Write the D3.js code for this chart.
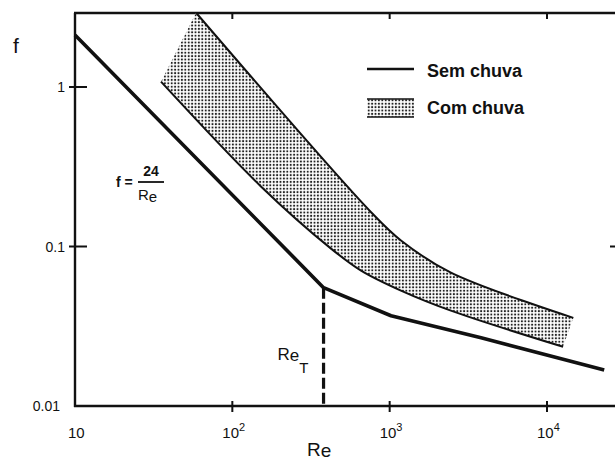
<!DOCTYPE html>
<html>
<head>
<meta charset="utf-8">
<script src="https://cdn.jsdelivr.net/npm/d3@7"></script>
<style>
  body { margin: 0; background: #fff; }
  svg { display: block; font-family: "Liberation Sans", Arial, sans-serif; }
</style>
</head>
<body>
<div id="main"></div>
<script>
// values (Re, f)
const semChuva = [[10, 2.12], [380, 0.0552], [1020, 0.0368], [3810, 0.0268], [23100, 0.0168]];
const chuvaUpper = [[58.8, 2.92], [762, 0.164], [1180, 0.109], [2450, 0.0686], [14700, 0.0357]];
const chuvaLower = [[35.2, 1.08], [152, 0.238], [424, 0.097], [658, 0.0706], [1180, 0.0529], [2450, 0.0396], [12650, 0.0235]];
const reT = 380;
const xTicks = [10, 100, 1000, 10000];
const xTickExp = ["", "2", "3", "4"];
const yTicks = [1, 0.1];
const yTickLabels = ["1", "0.1"];
const legendItems = ["Sem chuva", "Com chuva"];

const ctx = {
    w: 615,
    h: 463,
    left: 75,
    right: 617,
    top: 13,
    bottom: 406,
};

let svg = d3.select("#main").append("svg")
    .attr("width", ctx.w)
    .attr("height", ctx.h);

// dotted fill for the rain band
let pat = svg.append("defs").append("pattern")
    .attr("id", "stipple")
    .attr("patternUnits", "userSpaceOnUse")
    .attr("width", 3.4)
    .attr("height", 3.4);
pat.append("rect").attr("width", 3.4).attr("height", 3.4).attr("fill", "#fff");
pat.append("circle").attr("cx", 1.7).attr("cy", 1.7).attr("r", 1.05).attr("fill", "#222");

let x = d3.scaleLog().domain([10, 10000]).range([ctx.left, 547]);
let y = d3.scaleLog().domain([0.01, 1]).range([ctx.bottom, 87]);

// frame
let frame = svg.append("g").attr("stroke", "#111").attr("stroke-width", 2.4).attr("fill", "none");
frame.append("line").attr("x1", ctx.left).attr("x2", ctx.left).attr("y1", ctx.top).attr("y2", ctx.bottom + 1);
frame.append("line").attr("x1", ctx.left - 1).attr("x2", ctx.right).attr("y1", ctx.bottom).attr("y2", ctx.bottom);
frame.append("line").attr("x1", ctx.left - 1).attr("x2", ctx.right).attr("y1", ctx.top).attr("y2", ctx.top);
frame.append("line").attr("x1", ctx.right).attr("x2", ctx.right).attr("y1", ctx.top).attr("y2", ctx.bottom);

// ticks
let ticks = svg.append("g").attr("stroke", "#111").attr("stroke-width", 2);
ticks.selectAll(".yt").data(yTicks).enter().append("line")
    .attr("x1", ctx.left - 6).attr("x2", ctx.left + 12)
    .attr("y1", d => y(d)).attr("y2", d => y(d));
ticks.selectAll(".yr").data(yTicks.slice(1)).enter().append("line")
    .attr("x1", ctx.right - 7).attr("x2", ctx.right)
    .attr("y1", d => y(d)).attr("y2", d => y(d));
ticks.selectAll(".xt").data(xTicks.slice(1)).enter().append("line")
    .attr("x1", d => x(d)).attr("x2", d => x(d))
    .attr("y1", ctx.bottom - 5).attr("y2", ctx.bottom + 6);
ticks.selectAll(".xtop").data(xTicks.slice(1)).enter().append("line")
    .attr("x1", d => x(d)).attr("x2", d => x(d))
    .attr("y1", ctx.top).attr("y2", ctx.top + 6);

// tick labels
let lab = svg.append("g").attr("fill", "#111").style("font-size", "14px");
lab.selectAll(".yl").data(yTicks).enter().append("text")
    .attr("x", ctx.left - 10)
    .attr("y", d => y(d) + 5)
    .attr("text-anchor", "end")
    .text((d, i) => yTickLabels[i]);
lab.append("text")
    .attr("x", ctx.left - 15).attr("y", y(0.01) + 5)
    .attr("text-anchor", "end")
    .text("0.01");

let xl = lab.selectAll(".xl").data(xTicks).enter().append("text")
    .attr("x", (d, i) => i == 0 ? x(d) - 7 : x(d) - 10)
    .attr("y", 438)
    .style("font-size", "15px");
xl.append("tspan").text("10");
xl.append("tspan").attr("dy", -7).style("font-size", "11px").text((d, i) => xTickExp[i]);

// axis titles
svg.append("text").attr("x", 13).attr("y", 53).style("font-size", "21px").attr("fill", "#111").text("f");
let reTitle = svg.append("text").attr("x", 307).attr("y", 456).style("font-size", "19px").attr("fill", "#111");
reTitle.append("tspan").text("R");
reTitle.append("tspan").attr("dy", 1).text("e");

// rain band
let curve = d3.line().x(d => x(d[0])).y(d => y(d[1])).curve(d3.curveCatmullRom.alpha(0.5));
let lowerRev = chuvaLower.slice().reverse();
let bandPath = curve(chuvaUpper) + curve(lowerRev).replace(/^M/, "L") + "Z";
svg.append("path").attr("d", bandPath).attr("fill", "url(#stipple)").attr("stroke", "none");
svg.append("path").attr("d", curve(chuvaUpper)).attr("fill", "none").attr("stroke", "#111").attr("stroke-width", 2);
svg.append("path").attr("d", curve(chuvaLower)).attr("fill", "none").attr("stroke", "#111").attr("stroke-width", 2);

// dry curve
let lin = d3.line().x(d => x(d[0])).y(d => y(d[1]));
svg.append("path").attr("d", lin(semChuva)).attr("fill", "none")
    .attr("stroke", "#111").attr("stroke-width", 3.6).attr("stroke-linejoin", "round");

// transition Reynolds number
let fT = semChuva[1][1];
svg.append("line")
    .attr("x1", x(reT)).attr("x2", x(reT))
    .attr("y1", y(fT)).attr("y2", ctx.bottom)
    .attr("stroke", "#111").attr("stroke-width", 3.2)
    .attr("stroke-dasharray", "11,4");
let reTl = svg.append("text").attr("x", x(reT) - 46).attr("y", 360)
    .style("font-size", "17px").attr("fill", "#111");
reTl.append("tspan").text("R");
reTl.append("tspan").attr("dy", 1).text("e");
reTl.append("tspan").attr("dy", 12).style("font-size", "15px").text("T");

// formula f = 24/Re
let fm = svg.append("g").attr("fill", "#111").style("font-weight", "bold");
fm.append("text").attr("x", 116).attr("y", 187).style("font-size", "14px").text("f =");
fm.append("text").attr("x", 151).attr("y", 176).attr("text-anchor", "middle").style("font-size", "14px").text("24");
fm.append("line").attr("x1", 138).attr("x2", 164).attr("y1", 182).attr("y2", 182)
    .attr("stroke", "#111").attr("stroke-width", 1.8);
let fr = fm.append("text").attr("x", 138).attr("y", 200).style("font-size", "15px").style("font-weight", "normal");
fr.append("tspan").text("R");
fr.append("tspan").attr("dy", 2).text("e");

// legend
let lg = svg.append("g").attr("transform", "translate(367,0)");
lg.append("line").attr("x1", 0).attr("x2", 47).attr("y1", 69).attr("y2", 69)
    .attr("stroke", "#111").attr("stroke-width", 2.4);
lg.append("rect").attr("x", 0).attr("y", 99).attr("width", 47).attr("height", 18)
    .attr("fill", "url(#stipple)");
lg.append("line").attr("x1", 0).attr("x2", 47).attr("y1", 99).attr("y2", 99)
    .attr("stroke", "#111").attr("stroke-width", 1.6);
lg.append("line").attr("x1", 0).attr("x2", 47).attr("y1", 117).attr("y2", 117)
    .attr("stroke", "#111").attr("stroke-width", 1.6);
lg.selectAll(".lt").data(legendItems).enter().append("text")
    .attr("x", 60)
    .attr("y", (d, i) => 77 + i * 37)
    .style("font-size", "18px")
    .style("font-weight", "bold")
    .attr("fill", "#111")
    .text(d => d);
</script>
</body>
</html>
